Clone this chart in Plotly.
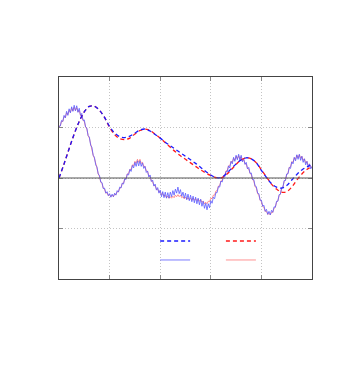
import numpy as np
import plotly.graph_objects as go

# x grids for the two kinds of curves
x_dash = np.round(np.arange(51) * 0.1, 3)
x_solid = np.round(np.arange(201) * 0.025, 3)

# smooth (dashed) curves, blue and red
dash_blue = [
    0.00, 0.28, 0.58, 0.87, 1.12, 1.31, 1.42, 1.42, 1.34, 1.20,
    1.02, 0.89, 0.82, 0.80, 0.83, 0.89, 0.95, 0.97, 0.93, 0.86,
    0.79, 0.71, 0.64, 0.57, 0.50, 0.43, 0.36, 0.29, 0.21, 0.13,
    0.06, 0.01, 0.01, 0.08, 0.18, 0.28, 0.36, 0.40, 0.38, 0.30,
    0.15, 0.01, -0.11, -0.18, -0.20, -0.15, -0.04, 0.07, 0.16, 0.22,
    0.26,
]
dash_red = [
    0.00, 0.28, 0.58, 0.87, 1.12, 1.31, 1.42, 1.42, 1.34, 1.20,
    1.00, 0.86, 0.78, 0.76, 0.79, 0.87, 0.94, 0.97, 0.94, 0.87,
    0.79, 0.70, 0.61, 0.52, 0.44, 0.37, 0.30, 0.23, 0.16, 0.10,
    0.05, 0.01, 0.00, 0.06, 0.16, 0.27, 0.36, 0.40, 0.38, 0.30,
    0.16, 0.02, -0.12, -0.22, -0.28, -0.27, -0.18, -0.04, 0.08, 0.17,
    0.22,
]

# noisy (solid) curves, blue and red
solid_blue = [
    1.02, 1.03, 1.14, 1.12, 1.24, 1.19, 1.32, 1.24,
    1.37, 1.29, 1.41, 1.32, 1.44, 1.33, 1.43, 1.30,
    1.38, 1.24, 1.28, 1.14, 1.15, 1.01, 0.99, 0.84,
    0.81, 0.65, 0.61, 0.45, 0.41, 0.26, 0.22, 0.08,
    0.05, -0.08, -0.09, -0.21, -0.20, -0.30, -0.27, -0.35,
    -0.31, -0.38, -0.32, -0.37, -0.30, -0.34, -0.25, -0.28,
    -0.18, -0.20, -0.10, -0.12, -0.01, -0.03, 0.08, 0.06,
    0.17, 0.13, 0.25, 0.20, 0.31, 0.23, 0.34, 0.24,
    0.34, 0.23, 0.30, 0.19, 0.23, 0.11, 0.14, 0.02,
    0.06, -0.07, -0.04, -0.16, -0.12, -0.24, -0.19, -0.30,
    -0.24, -0.37, -0.27, -0.39, -0.28, -0.40, -0.29, -0.40,
    -0.28, -0.37, -0.25, -0.34, -0.22, -0.30, -0.18, -0.31,
    -0.23, -0.36, -0.28, -0.40, -0.30, -0.43, -0.32, -0.45,
    -0.34, -0.47, -0.36, -0.49, -0.38, -0.51, -0.40, -0.53,
    -0.42, -0.56, -0.46, -0.60, -0.50, -0.63, -0.51, -0.59,
    -0.45, -0.50, -0.38, -0.41, -0.29, -0.29, -0.17, -0.18,
    -0.06, -0.08, 0.03, 0.02, 0.13, 0.12, 0.24, 0.20,
    0.33, 0.28, 0.41, 0.33, 0.45, 0.36, 0.47, 0.36,
    0.45, 0.32, 0.39, 0.27, 0.31, 0.18, 0.21, 0.09,
    0.10, -0.03, -0.03, -0.16, -0.17, -0.30, -0.31, -0.44,
    -0.44, -0.56, -0.54, -0.66, -0.62, -0.72, -0.66, -0.73,
    -0.64, -0.68, -0.57, -0.58, -0.46, -0.46, -0.33, -0.32,
    -0.19, -0.18, -0.05, -0.05, 0.08, 0.08, 0.21, 0.19,
    0.32, 0.28, 0.41, 0.34, 0.46, 0.37, 0.47, 0.35,
    0.43, 0.31, 0.38, 0.26, 0.33, 0.21, 0.28, 0.18,
    0.23,
]
solid_red = [
    1.02, 1.03, 1.12, 1.12, 1.22, 1.20, 1.29, 1.26,
    1.34, 1.30, 1.38, 1.33, 1.40, 1.34, 1.39, 1.31,
    1.34, 1.24, 1.24, 1.14, 1.12, 1.01, 0.97, 0.84,
    0.79, 0.65, 0.59, 0.45, 0.39, 0.26, 0.20, 0.08,
    0.03, -0.08, -0.11, -0.20, -0.22, -0.30, -0.29, -0.35,
    -0.33, -0.37, -0.34, -0.37, -0.32, -0.33, -0.27, -0.27,
    -0.20, -0.19, -0.11, -0.10, -0.02, -0.01, 0.08, 0.09,
    0.17, 0.17, 0.26, 0.24, 0.33, 0.29, 0.37, 0.31,
    0.37, 0.29, 0.31, 0.23, 0.23, 0.14, 0.13, 0.04,
    0.03, -0.06, -0.07, -0.15, -0.15, -0.22, -0.22, -0.28,
    -0.27, -0.33, -0.31, -0.36, -0.34, -0.39, -0.36, -0.40,
    -0.37, -0.40, -0.36, -0.39, -0.34, -0.37, -0.33, -0.37,
    -0.34, -0.39, -0.37, -0.41, -0.38, -0.42, -0.39, -0.43,
    -0.40, -0.44, -0.40, -0.44, -0.41, -0.45, -0.42, -0.46,
    -0.43, -0.48, -0.46, -0.51, -0.48, -0.51, -0.46, -0.47,
    -0.40, -0.41, -0.34, -0.34, -0.26, -0.25, -0.16, -0.15,
    -0.06, -0.05, 0.04, 0.05, 0.14, 0.15, 0.24, 0.24,
    0.33, 0.31, 0.39, 0.35, 0.43, 0.38, 0.44, 0.37,
    0.42, 0.34, 0.36, 0.28, 0.28, 0.19, 0.18, 0.09,
    0.07, -0.03, -0.06, -0.17, -0.20, -0.31, -0.34, -0.44,
    -0.47, -0.56, -0.58, -0.66, -0.66, -0.72, -0.70, -0.73,
    -0.68, -0.68, -0.60, -0.58, -0.48, -0.45, -0.35, -0.32,
    -0.21, -0.18, -0.07, -0.04, 0.07, 0.10, 0.21, 0.22,
    0.32, 0.31, 0.40, 0.37, 0.45, 0.40, 0.46, 0.39,
    0.43, 0.35, 0.38, 0.30, 0.33, 0.25, 0.27, 0.21,
    0.22,
]

fig = go.Figure()

# noisy curves underneath
fig.add_trace(go.Scatter(x=x_solid, y=solid_red, mode="lines", name=" ",
                         line=dict(color="rgba(255,100,100,0.7)", width=1),
                         legend="legend2", legendrank=2))
fig.add_trace(go.Scatter(x=x_solid, y=solid_blue, mode="lines", name=" ",
                         line=dict(color="rgba(90,90,255,0.8)", width=1),
                         legend="legend", legendrank=2))
# smooth dashed curves on top
fig.add_trace(go.Scatter(x=x_dash, y=dash_red, mode="lines", name=" ",
                         line=dict(color="#ff1a1a", width=1.3, dash="4px,3px", shape="spline"),
                         legend="legend2", legendrank=1))
fig.add_trace(go.Scatter(x=x_dash, y=dash_blue, mode="lines", name=" ",
                         line=dict(color="#1a1aff", width=1.3, dash="4px,3px", shape="spline"),
                         legend="legend", legendrank=1))

axis_style = dict(
    showticklabels=False,
    ticks="inside", ticklen=4, tickcolor="#888",
    showgrid=True, gridcolor="#c4c4c4", griddash="1px,2px", gridwidth=1,
    showline=True, linecolor="#444", linewidth=1, mirror="ticks",
    zeroline=False,
)

fig.update_xaxes(range=[0, 5], dtick=1, tick0=0, **axis_style)
fig.update_yaxes(range=[-2, 2], dtick=1, tick0=0, **axis_style)

# solid line at y = 0
fig.add_hline(y=0, line=dict(color="#555", width=1))

legend_style = dict(bgcolor="rgba(0,0,0,0)", borderwidth=0, orientation="v",
                    font=dict(size=9, family="DejaVu Sans"),
                    xanchor="left", yanchor="top", traceorder="normal")

# the page body adds 8px, so the margins are trimmed by that much
fig.update_layout(
    width=339, height=370, autosize=False,
    margin=dict(l=51, r=35, t=69, b=99),
    paper_bgcolor="white", plot_bgcolor="white",
    showlegend=True,
    legend=dict(x=0.38, y=0.26, **legend_style),
    legend2=dict(x=0.64, y=0.26, **legend_style),
)

fig.write_html("out.html")
